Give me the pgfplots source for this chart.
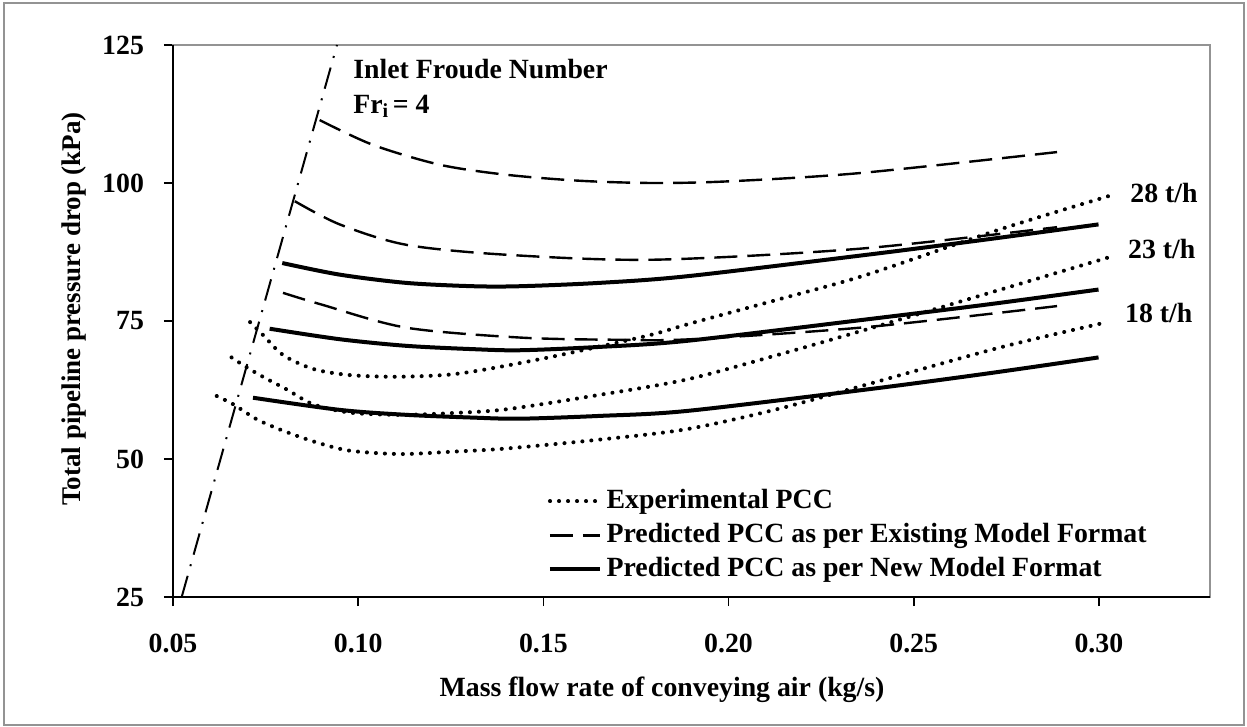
\documentclass[border=0pt]{standalone}
\usepackage{fontspec}
\setmainfont{Liberation Serif}
\usepackage{pgfplots}
\pgfplotsset{compat=1.18}
\newcommand{\lf}{\bfseries\fontsize{13.9}{16}\selectfont}
\tikzset{
 expt/.style={black, line width=2pt, line cap=round, dash pattern=on 0.05pt off 4.45pt},
 exist/.style={black, line width=1.2pt, dash pattern=on 11.5pt off 5pt},
 newm/.style={black, line width=2pt},
 froude/.style={black, line width=1pt, dash pattern=on 11pt off 5pt on 1pt off 5pt}
}
\begin{document}
\begin{tikzpicture}
\useasboundingbox (-86.5pt,-65pt) rectangle (537pt,298.5pt);
\draw[line width=1pt, color=gray!85] (-84.5pt,-64pt) rectangle (535.5pt,297pt);
\begin{axis}[
  at={(0,0)}, anchor=south west,
  scale only axis, width=518.5pt, height=276pt,
  xmin=0.05, xmax=0.33, ymin=25, ymax=125,
  xtick={0.05,0.10,0.15,0.20,0.25,0.30},
  ytick={25,50,75,100,125},
  /pgf/number format/assume math mode=true,
  xticklabel style={/pgf/number format/fixed, /pgf/number format/fixed zerofill, /pgf/number format/precision=2, font=\lf, yshift=-10.5pt},
  yticklabel style={font=\lf, xshift=-6.5pt},
  tick align=outside, tick pos=left,
  major tick length=4.5pt,
  tick style={black, line width=0.8pt},
  axis line style={gray!85, line width=1pt},
  clip mode=individual,
  xlabel={Mass flow rate of conveying air (kg/s)},
  ylabel={Total pipeline pressure drop (kPa)},
  xlabel style={font=\lf, at={(axis description cs:0.4716,-0.1685)}, anchor=center},
  ylabel style={font=\bfseries\fontsize{13.5}{16}\selectfont, at={(axis description cs:-0.0955,0.522)}, anchor=center},
  legend style={at={(0.3616,0.1969)}, anchor=north west, draw=none, fill=none,
    inner sep=0pt, outer sep=0pt, row sep=4pt, font=\lf,
    nodes={inner sep=0pt, text height=10pt, text depth=3pt}},
  legend cell align=left,
  legend image code/.code={\draw[#1] (0pt,0pt) -- (25pt,0pt);},
]
\addlegendimage{expt}
\addlegendentry{\,Experimental PCC}
\addlegendimage{exist}
\addlegendentry{\,Predicted PCC as per Existing Model Format}
\addlegendimage{newm}
\addlegendentry{\,Predicted PCC as per New Model Format}

% Inlet Froude number line
\addplot[froude, forget plot] coordinates {(0.05235,25) (0.09428,125)};

% Experimental
\addplot[expt, smooth, forget plot] coordinates {
(0.0708,74.8) (0.0744,72.4) (0.0798,68.8) (0.0879,66.3) (0.0978,65.2) (0.1104,64.9)
(0.1248,65.3) (0.1375,66.6) (0.155,68.9) (0.1779,72.3) (0.1905,74.7) (0.214,79.0)
(0.2374,83.4) (0.2733,91.6) (0.304,97.9)};
\addplot[expt, smooth, forget plot] coordinates {
(0.0658,68.4) (0.0699,66.6) (0.0748,64.7) (0.0807,62.6) (0.0879,59.9) (0.0978,58.4)
(0.1113,58.0) (0.1248,58.3) (0.1400,59.0) (0.165,61.6) (0.1887,64.4) (0.213,68.8)
(0.2374,73.5) (0.27,80.0) (0.304,86.8)};
\addplot[expt, smooth, forget plot] coordinates {
(0.0618,61.4) (0.0663,59.9) (0.0726,57.2) (0.0798,55.1) (0.0888,53.0) (0.0978,51.5)
(0.1113,50.9) (0.1248,51.3) (0.1400,51.9) (0.165,53.5) (0.1887,55.4) (0.213,59.0)
(0.2374,63.5) (0.2733,70.2) (0.3016,74.7)};

% Existing model
\addplot[exist, smooth, forget plot] coordinates {
(0.0896,111.4) (0.104,106.9) (0.1221,103.3) (0.1399,101.5) (0.16,100.4) (0.1796,100.0)
(0.2,100.3) (0.2355,101.8) (0.2887,105.6)};
\addplot[exist, smooth, forget plot] coordinates {
(0.0829,96.7) (0.095,92.5) (0.113,88.8) (0.140,87.0) (0.1797,86.1) (0.2355,88.1) (0.2887,92.0)};
\addplot[exist, smooth, forget plot] coordinates {
(0.0797,80.1) (0.09,78.0) (0.1129,73.8) (0.1437,72.0) (0.17,71.6) (0.19,71.7) (0.2374,73.9) (0.2887,77.7)};

% New model
\addplot[newm, smooth, forget plot] coordinates {
(0.0795,85.5) (0.095,83.4) (0.113,81.9) (0.131,81.3) (0.1437,81.3) (0.165,81.9)
(0.1887,83.1) (0.2374,87.0) (0.27,89.8) (0.2999,92.5)};
\addplot[newm, smooth, forget plot] coordinates {
(0.0761,73.6) (0.095,71.7) (0.113,70.5) (0.131,69.9) (0.1437,69.7) (0.165,70.3)
(0.1887,71.4) (0.2374,75.3) (0.27,78.0) (0.2999,80.7)};
\addplot[newm, smooth, forget plot] coordinates {
(0.0716,61.1) (0.095,58.9) (0.113,58.0) (0.131,57.5) (0.1437,57.3) (0.165,57.8)
(0.1887,58.7) (0.2374,62.6) (0.27,65.5) (0.2999,68.4)};

% black left and bottom axes
\draw[black, line width=1.2pt] (rel axis cs:0,1) -- (rel axis cs:0,0) -- (rel axis cs:1,0);

\node[anchor=base west, font=\lf, inner sep=0pt] at (axis cs:0.0986,118.98) {Inlet Froude Number};
\node[anchor=base west, font=\lf, inner sep=0pt] at (axis cs:0.0986,112.65) {Fr\raisebox{-0.35ex}{\fontsize{10}{12}\selectfont i}\,= 4};
\node[anchor=west, font=\lf, inner sep=0pt] at (axis cs:0.3084,98.25) {28 t/h};
\node[anchor=west, font=\lf, inner sep=0pt] at (axis cs:0.3078,88.1) {23 t/h};
\node[anchor=west, font=\lf, inner sep=0pt] at (axis cs:0.3070,76.4) {18 t/h};
\end{axis}
\end{tikzpicture}
\end{document}
